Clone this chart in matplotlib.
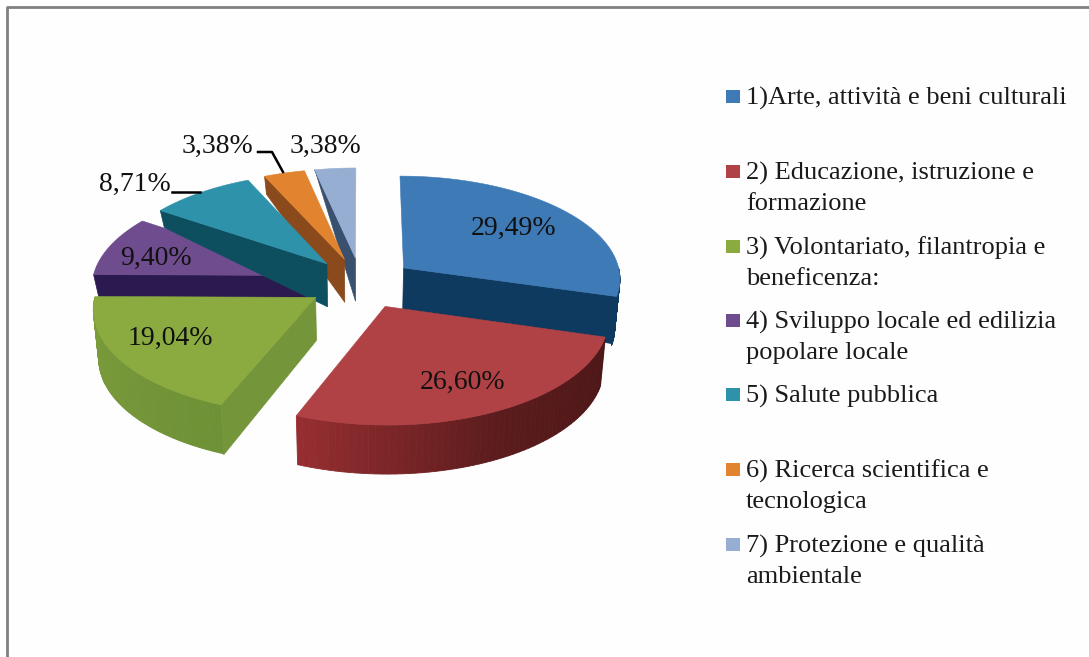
import numpy as np
import matplotlib
matplotlib.use("Agg")
import matplotlib.pyplot as plt
import matplotlib.colors as mcolors

plt.rcParams['font.family'] = ['Liberation Serif', 'DejaVu Serif']

values = [29.49, 26.60, 19.04, 9.40, 8.71, 3.38, 3.38]
value_labels = ["29,49%", "26,60%", "19,04%", "9,40%", "8,71%", "3,38%", "3,38%"]
legend_labels = [
    "1)Arte, attività e beni culturali",
    "2) Educazione, istruzione e\nformazione",
    "3) Volontariato, filantropia e\nbeneficenza:",
    "4) Sviluppo locale ed edilizia\npopolare locale",
    "5) Salute pubblica",
    "6) Ricerca scientifica e\ntecnologica",
    "7) Protezione e qualità\nambientale",
]

# styles, one per slice
top_colors = ["#3d7ab6", "#b04145", "#8bab40", "#6f4c8e", "#2f92ab", "#e2842f", "#97aed3"]
rim_colors = [["#0f3a60", "#0f3a60"], ["#4c1617", "#5c1c1d", "#962e31"], ["#6f9136", "#7b9c3a"],
              ["#2b1a4f"], ["#0d4f5e"], ["#8f4f1e"], ["#39506e"]]
side_colors = ["#0f3a60", None, "#75953a", "#2b1a4f", "#0d4f5e", "#8a4a1c", "#39506e"]
side_edge = ["end", None, "start", "start", "start", "start", "start"]
tip_depth = [47, None, 50, 23, 17, 18, 2]
draw_order = [6, 5, 0, 3, 4, 2, 1]

label_pos = [(514, 228), (463, 382), (170, 338), (156, 258), (135, 184), (217, 146), (325, 146)]
legend_baseline = [105, 180, 255, 329, 403, 478, 553]
legend_square = [96, 171, 246, 320, 394, 469, 544]

# view of the pie, in pixels
X0, Y0 = 361, 283
RX, KY = 218, 103
PERSP = 0.093
EXPLODE = 0.2475
DEPTH = 43
RIM_DEPTH = 49
NADIR = 0.98


def project(u, v):
    s = 1 / (1 + PERSP * v)
    return X0 + RX * u * s, Y0 - KY * v * s


def drop(x, y, depth):
    return X0 + (x - X0) * NADIR, y + depth


def ring(cu, cv, a):
    a = np.radians(a)
    return project(cu + np.sin(a), cv + np.cos(a))


fig = plt.figure(figsize=(10.89, 6.57), dpi=100, facecolor="#fefefe")
ax = fig.add_axes([0, 0, 1, 1])
ax.set_xlim(0, 1089)
ax.set_ylim(657, 0)
ax.axis("off")

# frame
ax.plot([7, 7, 1089], [657, 7, 7], color="#808080", lw=2)

edges = np.cumsum([0] + values) / sum(values) * 360

for i in draw_order:
    a0, a1 = edges[i], edges[i + 1]
    mid = np.radians((a0 + a1) / 2)
    cu, cv = EXPLODE * np.sin(mid), EXPLODE * np.cos(mid)
    ax_, ay_ = project(cu, cv)

    # outer wall, only the part facing the viewer
    r0, r1 = max(a0, 90), min(a1, 270)
    if r1 > r0:
        steps = np.linspace(r0, r1, 61)
        stops = np.array([mcolors.to_rgb(c) for c in rim_colors[i]])
        pos = np.linspace(0, 1, len(stops))
        for j in range(len(steps) - 1):
            f = j / (len(steps) - 2)
            col = [np.interp(f, pos, stops[:, k]) for k in range(3)]
            xs, ys = ring(cu, cv, steps[j:j + 2])
            bx, by = drop(xs, ys, RIM_DEPTH)
            ax.fill(np.r_[xs, bx[::-1]], np.r_[ys, by[::-1]], color=col, lw=0.6)

    # cut wall
    if side_edge[i]:
        a = a0 if side_edge[i] == "start" else a1
        tx, ty = ring(cu, cv, a)
        bx_tip, by_tip = drop(tx, ty, tip_depth[i])
        bx_ap, by_ap = drop(ax_, ay_, DEPTH)
        ax.fill([tx, ax_, bx_ap, bx_tip], [ty, ay_, by_ap, by_tip], color=side_colors[i], lw=0.5)

    # top face
    xs, ys = ring(cu, cv, np.linspace(a0, a1, 80))
    ax.fill(np.r_[ax_, xs], np.r_[ay_, ys], color=top_colors[i], lw=0.4)

# value labels
for (x, y), txt in zip(label_pos, value_labels):
    ax.text(x, y, txt, fontsize=20, color="#111111", ha="center", va="center")

# leader lines
ax.plot([172, 200], [192, 192], color="black", lw=1.8)
ax.plot([258, 272, 283], [152, 152, 172], color="black", lw=1.8)

# legend
for i, label in enumerate(legend_labels):
    ax.fill([726, 740, 740, 726], np.array([-6.5, -6.5, 6.5, 6.5]) + legend_square[i],
            color=top_colors[i], lw=0)
    for n, line in enumerate(label.split("\n")):
        ax.text(746, legend_baseline[i] + n * 30, line, fontsize=19, color="#1a1a1a",
                ha="left", va="baseline")

fig.savefig("out.png", dpi=100, facecolor=fig.get_facecolor())
